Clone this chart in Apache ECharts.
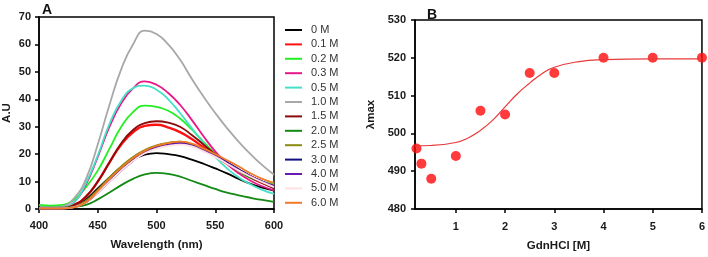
<!DOCTYPE html>
<html>
<head>
<meta charset="utf-8">
<script src="https://cdn.jsdelivr.net/npm/echarts@6/dist/echarts.min.js"></script>
<style>
  html, body { margin: 0; padding: 0; background: #fff; }
  #chart { width: 708px; height: 257px; }
</style>
</head>
<body>
<div id="chart"></div>
<script>
// 波长 (nm)
const wavelengths = [400, 410, 420, 430, 440, 450, 460, 470, 480, 490, 500, 510, 520, 530, 540, 550, 560, 570, 580, 590, 600];

// 各浓度的荧光光谱 (A.U)
const s0M   = [0.5, 0.5, 0.5, 1.0, 3.5, 7.5, 11.5, 15.3, 18.0, 19.8, 20.4, 20.0, 19.3, 18.0, 16.5, 14.8, 13.0, 11.0, 9.2, 7.8, 6.7];
const s01M  = [0.3, 0.2, 0.3, 1.5, 4.5, 10.0, 17.0, 23.5, 28.0, 30.3, 30.7, 29.7, 28.0, 25.5, 22.5, 19.5, 16.5, 13.8, 11.5, 9.5, 8.0];
const s02M  = [1.5, 1.2, 1.5, 3.5, 8.0, 14.0, 22.0, 30.0, 35.3, 37.7, 37.2, 35.8, 33.0, 29.0, 24.5, 20.2, 16.6, 13.6, 11.3, 10.0, 9.0];
const s03M  = [0.2, 0.2, 0.5, 2.5, 9.0, 19.0, 30.0, 38.5, 44.0, 46.5, 45.3, 42.3, 38.0, 32.5, 26.5, 21.0, 16.5, 13.0, 10.3, 8.3, 6.8];
const s05M  = [0.3, 0.3, 0.5, 2.5, 9.5, 19.5, 31.0, 39.5, 44.0, 45.0, 43.5, 40.0, 35.0, 29.5, 24.0, 19.0, 14.8, 11.5, 9.0, 7.0, 5.5];
const s10M  = [0.5, 0.5, 1.0, 4.0, 11.0, 23.5, 38.0, 51.0, 60.0, 65.0, 63.8, 60.0, 54.5, 47.5, 41.0, 35.0, 29.5, 24.5, 20.0, 16.0, 12.5];
const s15M  = [0.3, 0.2, 0.3, 1.5, 4.5, 10.0, 17.0, 24.0, 28.8, 31.3, 32.0, 31.5, 30.0, 27.0, 23.5, 20.0, 17.0, 14.0, 11.5, 9.5, 7.5];
const s20M  = [0.5, 0.5, 0.5, 0.8, 1.5, 3.5, 6.0, 8.7, 11.0, 12.6, 13.2, 12.8, 11.8, 10.3, 8.8, 7.3, 6.0, 5.0, 4.1, 3.3, 2.6];
const s25M  = [0.2, 0.2, 0.2, 0.8, 3.0, 7.0, 11.5, 15.5, 19.0, 21.5, 23.2, 24.1, 24.6, 23.6, 21.5, 19.5, 17.0, 14.5, 12.0, 10.0, 8.5];
const s30M  = [0.2, 0.2, 0.2, 0.7, 2.5, 6.0, 10.5, 14.5, 18.0, 20.8, 22.6, 23.5, 24.0, 23.2, 21.5, 19.5, 17.0, 14.5, 12.0, 10.0, 8.0];
const s40M  = [0.2, 0.2, 0.2, 0.7, 2.5, 6.0, 10.0, 14.0, 17.5, 20.5, 22.3, 23.3, 23.8, 23.0, 21.3, 19.3, 16.8, 14.3, 12.0, 10.0, 8.5];
const s50M  = [0.2, 0.2, 0.2, 0.7, 2.5, 6.0, 10.0, 14.0, 17.5, 20.3, 22.0, 23.0, 23.5, 22.8, 21.0, 19.0, 16.5, 14.0, 11.8, 9.8, 8.0];
const s60M  = [0.2, 0.2, 0.2, 0.7, 2.5, 6.5, 11.0, 15.0, 18.5, 21.2, 23.0, 24.0, 24.6, 23.8, 22.0, 20.0, 17.8, 15.5, 13.0, 11.0, 9.5];

const seriesNames = ['0 M', '0.1 M', '0.2 M', '0.3 M', '0.5 M', '1.0 M', '1.5 M', '2.0 M', '2.5 M', '3.0 M', '4.0 M', '5.0 M', '6.0 M'];
const seriesValues = [s0M, s01M, s02M, s03M, s05M, s10M, s15M, s20M, s25M, s30M, s40M, s50M, s60M];
const colors = ['#000000', '#ff1010', '#22f022', '#e8178a', '#45e0c8', '#a8a8a8', '#8b0a0a', '#138a13', '#8c8a10', '#101080', '#6a1ab0', '#ffe0e4', '#f07a2a'];

// GdnHCl 浓度 vs λmax
const gdnConc = [0.2, 0.3, 0.5, 1, 1.5, 2, 2.5, 3, 4, 5, 6];
const lambdaMax = [496, 492, 488, 494, 506, 505, 516, 516, 520, 520, 520];
// 拟合曲线
const fitX = [0.17, 0.5, 1.0, 1.25, 1.5, 1.75, 2.0, 2.25, 2.5, 2.75, 3.0, 3.5, 4.0, 5.0, 6.0];
const fitY = [496.7, 496.8, 497.6, 498.8, 500.8, 503.5, 507.0, 510.5, 513.3, 515.8, 517.5, 519.0, 519.5, 519.7, 519.7];

const font = 'Liberation Sans, Arial, sans-serif';
const axisLabelStyle = { color: '#1a1a1a', fontSize: 11, fontWeight: 'bold', fontFamily: font };
const axisNameStyle = { color: '#1a1a1a', fontSize: 11.5, fontWeight: 'bold', fontFamily: font };
const axisLineStyle = { show: true, lineStyle: { color: '#000', width: 1.5 } };
const axisTickStyle = { show: true, length: 4, lineStyle: { color: '#000', width: 1.5 } };

const charts = echarts.init(document.getElementById('chart'));
const option = {
  animation: false,
  title: [
    { text: 'A', left: 37, top: -2, textStyle: { fontSize: 14, fontWeight: 'bold', fontFamily: font, color: '#111' } },
    { text: 'B', left: 422, top: 3, textStyle: { fontSize: 14, fontWeight: 'bold', fontFamily: font, color: '#111' } }
  ],
  grid: [
    { left: 37, right: 434, top: 17, bottom: 48, show: true, borderColor: '#000', borderWidth: 1.5 },
    { left: 415, right: 3, top: 20, bottom: 47, show: true, borderColor: '#000', borderWidth: 1.5 }
  ],
  legend: {
    orient: 'vertical',
    left: 285,
    top: 24,
    padding: 0,
    itemWidth: 17,
    itemHeight: 2,
    itemGap: 2.4,
    icon: 'rect',
    textStyle: { fontSize: 11, lineHeight: 12, color: '#333', fontFamily: font, padding: [0, 0, 0, 4] },
    data: seriesNames
  },
  xAxis: [
    {
      type: 'value', gridIndex: 0, min: 400, max: 600, interval: 50,
      name: 'Wavelength (nm)', nameLocation: 'middle', nameGap: 30, nameTextStyle: axisNameStyle,
      axisLine: axisLineStyle, axisTick: axisTickStyle, splitLine: { show: false },
      axisLabel: Object.assign({ margin: 11 }, axisLabelStyle)
    },
    {
      type: 'value', gridIndex: 1, min: 0.17, max: 6,
      name: 'GdnHCl [M]', nameLocation: 'middle', nameGap: 31, nameTextStyle: axisNameStyle,
      axisLine: axisLineStyle, splitLine: { show: false },
      axisTick: Object.assign({ customValues: [1, 2, 3, 4, 5, 6] }, axisTickStyle),
      axisLabel: Object.assign({ margin: 12, customValues: [1, 2, 3, 4, 5, 6] }, axisLabelStyle)
    }
  ],
  yAxis: [
    {
      type: 'value', gridIndex: 0, min: 0, max: 70, interval: 10,
      name: 'A.U', nameLocation: 'middle', nameGap: 26, nameTextStyle: axisNameStyle,
      axisLine: axisLineStyle, axisTick: axisTickStyle, splitLine: { show: false },
      axisLabel: Object.assign({ margin: 8 }, axisLabelStyle)
    },
    {
      type: 'value', gridIndex: 1, min: 480, max: 530, interval: 10,
      name: 'λmax', nameLocation: 'middle', nameGap: 38, nameTextStyle: axisNameStyle,
      axisLine: axisLineStyle, axisTick: axisTickStyle, splitLine: { show: false },
      axisLabel: Object.assign({ margin: 9 }, axisLabelStyle)
    }
  ],
  series: []
};

option.series = seriesValues.map((vals, i) => ({
  name: seriesNames[i],
  type: 'line',
  xAxisIndex: 0,
  yAxisIndex: 0,
  smooth: 0.5,
  showSymbol: false,
  data: wavelengths.map((w, k) => [w, vals[k]]),
  lineStyle: { color: colors[i], width: (i === 1) ? 2.4 : 1.8 },
  itemStyle: { color: colors[i] }
}));

option.series.push({
  type: 'line',
  xAxisIndex: 1,
  yAxisIndex: 1,
  smooth: 0.5,
  showSymbol: false,
  data: fitX.map((x, k) => [x, fitY[k]]),
  lineStyle: { color: '#e8383a', width: 1.2 }
});
option.series.push({
  type: 'scatter',
  xAxisIndex: 1,
  yAxisIndex: 1,
  symbolSize: 10,
  data: gdnConc.map((x, k) => [x, lambdaMax[k]]),
  itemStyle: { color: '#ff0a0a' }
});

charts.setOption(option);
</script>
</body>
</html>
